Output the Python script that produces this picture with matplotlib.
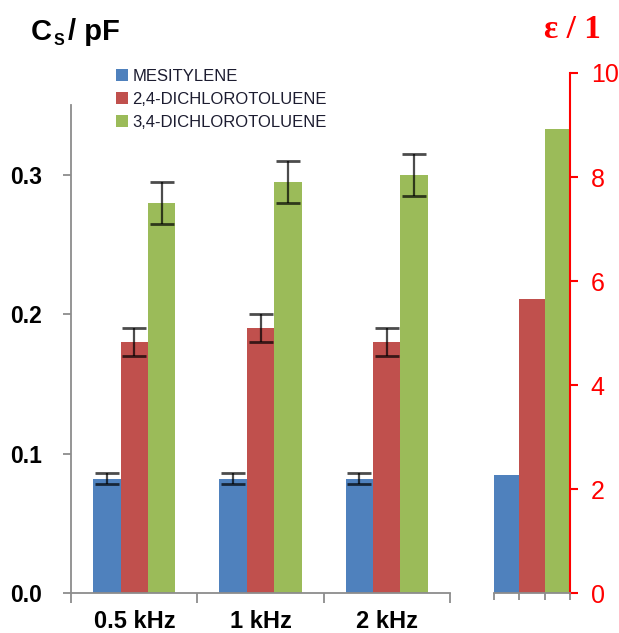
import matplotlib
matplotlib.use('Agg')
import matplotlib.pyplot as plt
from matplotlib import font_manager
import numpy as np

freqs = ['0.5 kHz', '1 kHz', '2 kHz']
solvents = ['MESITYLENE', '2,4-DICHLOROTOLUENE', '3,4-DICHLOROTOLUENE']
cap_mesitylene = [0.082, 0.082, 0.082]
cap_24dct = [0.180, 0.190, 0.180]
cap_34dct = [0.280, 0.295, 0.300]
err_mesitylene = [0.004, 0.004, 0.004]
err_24dct = [0.010, 0.010, 0.010]
err_34dct = [0.015, 0.015, 0.015]
eps_values = [2.27, 5.66, 8.93]

colors = ['#4F81BD', '#C0504D', '#9BBB59']
gray = '#8c8c8c'
W, H = 619, 633


def px(x, y):
    return x / W, 1 - y / H


names = {f.name for f in font_manager.fontManager.ttflist}
narrow = 'Liberation Sans Narrow' if 'Liberation Sans Narrow' in names else 'Liberation Sans'

fig = plt.figure(figsize=(W / 100, H / 100), dpi=100)
plt.rcParams['font.family'] = ['Liberation Sans', 'DejaVu Sans']

# left axes: capacitance
ax = fig.add_axes([71.4 / W, (H - 593.3) / H, (449.6 - 71.4) / W, (593.3 - 105) / H])
ind = np.arange(len(freqs))
bw = 0.217
series = [(cap_mesitylene, err_mesitylene), (cap_24dct, err_24dct), (cap_34dct, err_34dct)]
for i, (vals, errs) in enumerate(series):
    ax.bar(ind + (i - 1) * bw, vals, bw, color=colors[i], label=solvents[i], zorder=2)
for i, (vals, errs) in enumerate(series):
    ax.errorbar(ind + (i - 1) * bw, vals, yerr=errs, fmt='none', ecolor='black',
                elinewidth=1.6, capsize=8.5, capthick=2, alpha=0.7, zorder=3)

ax.set_xlim(-0.5, 2.5)
ax.set_ylim(0, 0.35)
ax.set_yticks([0.0, 0.1, 0.2, 0.3])
ax.set_yticklabels(['0.0', '0.1', '0.2', '0.3'], fontsize=16.5, fontweight='bold')
ax.set_xticks(ind)
ax.set_xticklabels(freqs, fontsize=17, fontweight='bold')
ax.set_xticks([-0.5, 0.5, 1.5, 2.5], minor=True)
ax.tick_params(axis='x', which='major', length=0, pad=12)
ax.tick_params(axis='x', which='minor', length=7, color=gray, width=1.3)
ax.tick_params(axis='y', length=6, color=gray, width=1.3, pad=15)
for s in ['top', 'right']:
    ax.spines[s].set_visible(False)
for s in ['left', 'bottom']:
    ax.spines[s].set_color(gray)
    ax.spines[s].set_linewidth(1.3)

leg = ax.legend(loc='upper left', bbox_to_anchor=(0.1, 1.088), frameon=False,
                fontsize=12, handlelength=0.7, handleheight=0.7,
                handletextpad=0.3, labelspacing=0.48, borderaxespad=0)
for t in leg.get_texts():
    t.set_color('#1c1c30')

# right axes: permittivity
ax2 = fig.add_axes([494 / W, (H - 593.3) / H, (570 - 494) / W, (593.3 - 73) / H])
ax2.bar(np.arange(3), eps_values, 1.0, color=colors, zorder=2)
ax2.set_xlim(-0.5, 2.5)
ax2.set_ylim(0, 10)
ax2.set_xticks([-0.5, 0.5, 1.5, 2.5])
ax2.set_xticklabels([])
ax2.tick_params(axis='x', length=5, color=gray, width=1.3)
ax2.yaxis.tick_right()
ax2.set_yticks([0, 2, 4, 6, 8, 10])
ax2.set_yticklabels(['0', '2', '4', '6', '8', '10'], fontsize=18, color='red',
                    family=[narrow, 'DejaVu Sans'])
ax2.tick_params(axis='y', length=6, color='red', width=1.5, pad=9)
for s in ['top', 'left']:
    ax2.spines[s].set_visible(False)
ax2.spines['right'].set_color('red')
ax2.spines['right'].set_linewidth(1.5)
ax2.spines['bottom'].set_color(gray)
ax2.spines['bottom'].set_linewidth(1.3)

# axis titles
fig.text(*px(31, 40), 'C', fontsize=21, fontweight='bold', va='baseline')
fig.text(*px(54, 45), 'S', fontsize=11.5, fontweight='bold', va='baseline')
fig.text(*px(68, 40), '/ pF', fontsize=21, fontweight='bold', va='baseline')
fig.text(*px(572, 38), 'ε / 1', fontsize=24, fontweight='bold', color='red',
         family=['Liberation Serif', 'DejaVu Serif'], ha='center', va='baseline')

fig.savefig('out.png', dpi=100)
